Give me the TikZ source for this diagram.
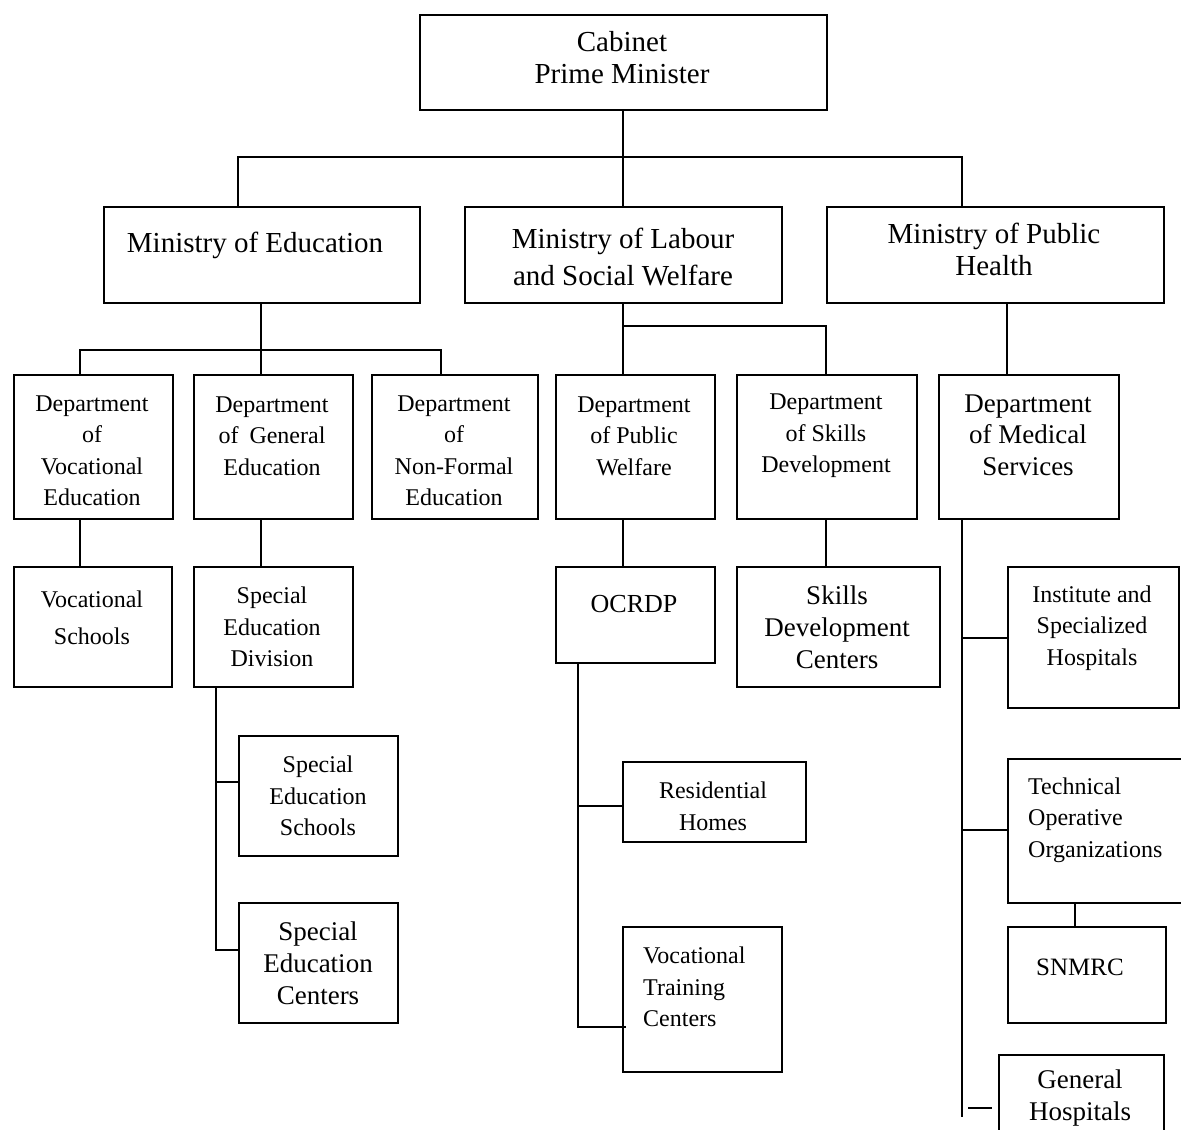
\documentclass[tikz,border=0pt]{standalone}
\usepackage{fontspec}
\setmainfont{Liberation Serif}
\begin{document}
\begin{tikzpicture}[x=1pt,y=-1pt,
  box/.style={draw, line width=1.6pt, inner sep=0pt, anchor=north west},
  conn/.style={line width=1.6pt},
  tA/.style={font=\fontsize{29}{32}\selectfont, align=center, inner sep=0pt},
  tB/.style={font=\fontsize{24}{31.5}\selectfont, align=center, inner sep=0pt},
  tC/.style={font=\fontsize{27}{32}\selectfont, align=center, inner sep=0pt}]
\clip (0,0) rectangle (1181,1130);
\fill[white] (0,0) rectangle (1181,1130);
% boxes
\node[box, minimum width=407, minimum height=95] (cab) at (419,14) {};
\node[box, minimum width=316, minimum height=96] (moe) at (103,206) {};
\node[box, minimum width=317, minimum height=96] (mol) at (464,206) {};
\node[box, minimum width=337, minimum height=96] (mph) at (826,206) {};
\node[box, minimum width=159, minimum height=144] (dve) at (13,374) {};
\node[box, minimum width=159, minimum height=144] (dge) at (193,374) {};
\node[box, minimum width=166, minimum height=144] (dnf) at (371,374) {};
\node[box, minimum width=159, minimum height=144] (dpw) at (555,374) {};
\node[box, minimum width=180, minimum height=144] (dsd) at (736,374) {};
\node[box, minimum width=180, minimum height=144] (dms) at (938,374) {};
\node[box, minimum width=158, minimum height=120] (vs) at (13,566) {};
\node[box, minimum width=159, minimum height=120] (sed) at (193,566) {};
\node[box, minimum width=159, minimum height=120] (ses) at (238,735) {};
\node[box, minimum width=159, minimum height=120] (sec) at (238,902) {};
\node[box, minimum width=159, minimum height=96] (ocr) at (555,566) {};
\node[box, minimum width=183, minimum height=80] (rh) at (622,761) {};
\node[box, minimum width=159, minimum height=145] (vtc) at (622,926) {};
\node[box, minimum width=203, minimum height=120] (sdc) at (736,566) {};
\node[box, minimum width=171, minimum height=141] (ish) at (1007,566) {};
\node[box, minimum width=183, minimum height=144] (too) at (1007,758) {};
\node[box, minimum width=158, minimum height=96] (snm) at (1007,926) {};
\node[box, minimum width=165, minimum height=96] (gh) at (998,1054) {};
% texts
\node[tA] (tcab) at (622,58) {Cabinet\\Prime Minister};
\node[tA] (tmoe) at (255,245) {Ministry of Education};
\node[tA, font=\fontsize{29}{37}\selectfont] (tmol) at (623,257) {Ministry of Labour\\and Social Welfare};
\node[tA] (tmph) at (994,249) {Ministry of Public\\Health};
\node[tB] (tdve) at (92,451) {Department\\of\\Vocational\\Education};
\node[tB] (tdge) at (272,436) {Department\\of\hspace{11pt}General\\Education};
\node[tB] (tdnf) at (454,451) {Department\\of\\Non-Formal\\Education};
\node[tB] (tdpw) at (634,436) {Department\\of Public\\Welfare};
\node[tB] (tdsd) at (826,436) {Department\\of Skills\\Development};
\node[tC, font=\fontsize{27}{31.5}\selectfont] (tdms) at (1028,435) {Department\\of Medical\\Services};
\node[tB, font=\fontsize{24}{37}\selectfont] (tvs) at (92,618) {Vocational\\Schools};
\node[tB] (tsed) at (272,627) {Special\\Education\\Division};
\node[tB] (tses) at (318,796) {Special\\Education\\Schools};
\node[tC] (tsec) at (318,963) {Special\\Education\\Centers};
\node[tC, font=\fontsize{26}{32}\selectfont] (tocr) at (634,604) {OCRDP};
\node[tB, font=\fontsize{24}{32}\selectfont] (trh) at (713,806) {Residential\\Homes};
\node[tB, align=left, anchor=west] (tvtc) at (643,987) {Vocational\\Training\\Centers};
\node[tC] (tsdc) at (837,627) {Skills\\Development\\Centers};
\node[tB] (tish) at (1092,628) {Institute and\\Specialized\\Hospitals};
\node[tB, align=left, anchor=west] (ttoo) at (1028,820) {Technical\\Operative\\Organizations};
\node[tC, font=\fontsize{25}{32}\selectfont] (tsnm) at (1080,967) {SNMRC};
\node[tC] (tgh) at (1080,1098) {General\\Hospitals};
% junction coordinates
\coordinate (j0) at (623,157);
\coordinate (jl) at (238,157);
\coordinate (jr) at (962,157);
\coordinate (e0) at (261,350);
\coordinate (el) at (80,350);
\coordinate (er) at (441,350);
\coordinate (l0) at (623,326);
\coordinate (lr) at (826,326);
\coordinate (s0) at (216,686);
\coordinate (s1) at (216,782);
\coordinate (s2) at (216,950);
\coordinate (o0) at (578,662);
\coordinate (o1) at (578,806);
\coordinate (o2) at (578,1027);
\coordinate (o3) at (626,1027);
\coordinate (m0) at (962,518);
\coordinate (m1) at (962,638);
\coordinate (m2) at (962,830);
\coordinate (m3) at (962,1117);
\coordinate (g0) at (968,1108);
\coordinate (g1) at (992,1108);
% connectors
\draw[conn] (cab.south -| j0) -- (j0);
\draw[conn] (jl |- moe.north) -- (jl) -- (jr) -- (jr |- mph.north);
\draw[conn] (j0) -- (j0 |- mol.north);
\draw[conn] (moe.south -| e0) -- (e0);
\draw[conn] (el |- dve.north) -- (el) -- (er) -- (er |- dnf.north);
\draw[conn] (e0) -- (e0 |- dge.north);
\draw[conn] (mol.south -| l0) -- (l0 |- dpw.north);
\draw[conn] (l0) -- (lr) -- (lr |- dsd.north);
\draw[conn] (mph.south -| 1007,0) -- (dms.north -| 1007,0);
\draw[conn] (dve.south -| el) -- (vs.north -| el);
\draw[conn] (dge.south -| e0) -- (sed.north -| e0);
\draw[conn] (dpw.south -| l0) -- (ocr.north -| l0);
\draw[conn] (dsd.south -| lr) -- (sdc.north -| lr);
\draw[conn] (s0) -- (s2) -- (s2 -| ses.west);
\draw[conn] (s1) -- (s1 -| ses.west);
\draw[conn] (o0) -- (o2) -- (o3);
\draw[conn] (o1) -- (o1 -| rh.west);
\draw[conn] (m0) -- (m3);
\draw[conn] (m1) -- (m1 -| ish.west);
\draw[conn] (m2) -- (m2 -| too.west);
\draw[conn] (g0) -- (g1);
\draw[conn] (too.south -| 1075,0) -- (snm.north -| 1075,0);
\end{tikzpicture}
\end{document}
